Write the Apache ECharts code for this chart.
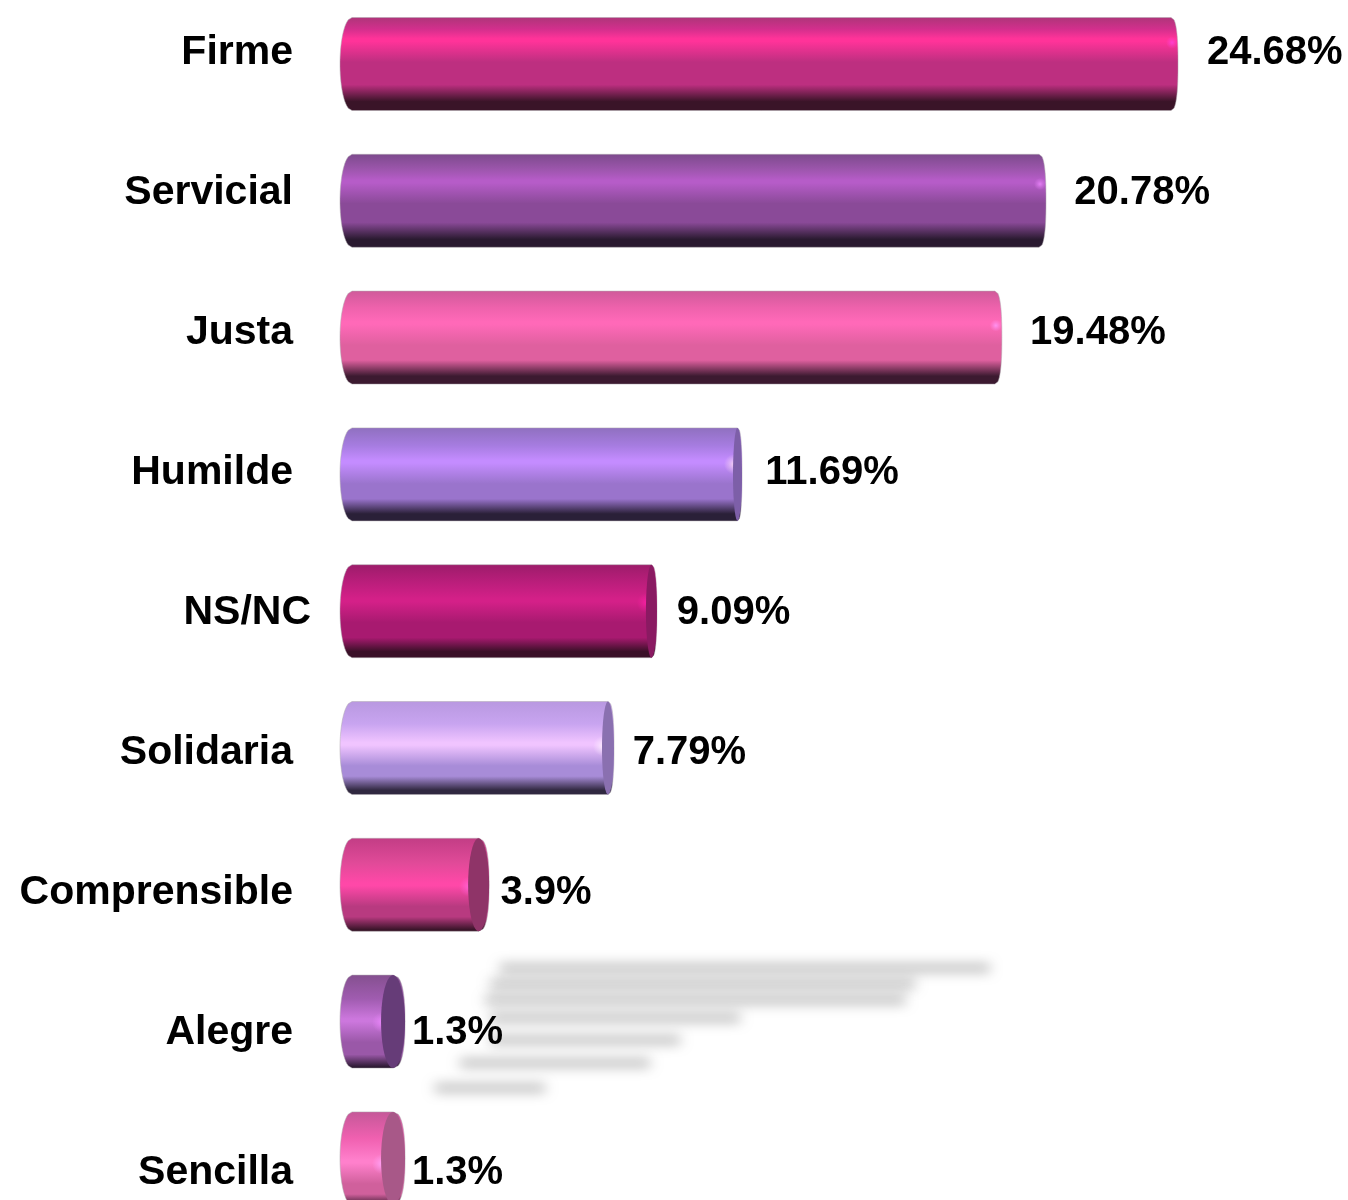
<!DOCTYPE html>
<html><head><meta charset="utf-8">
<style>html,body{margin:0;padding:0;background:#fff}#c{width:1348px;height:1200px}</style>
<script src="https://cdn.jsdelivr.net/npm/echarts@6/dist/echarts.min.js"></script>
</head><body><div id="c"></div>
<script>
const categories = ['Firme','Servicial','Justa','Humilde','NS/NC','Solidaria','Comprensible','Alegre','Sencilla'];
const values = [24.68,20.78,19.48,11.69,9.09,7.79,3.9,1.3,1.3];
const streakStart = [4.49,4.2,4.05,4.2,4.2,3.3,2.55];
const streakEnd = [19.12,16.89,16.6,11.66,9.87,8.97,5.84];
const streakRow = [968,984,1000,1018,1040,1063,1088];

const toneTop    = ['#ad3579','#7c4a8c','#cf5a9a','#8f70bf','#9c1c6a','#b898e0','#c23d85','#84508f','#c45898'];
const tonePre    = ['#d22f8c','#9a55aa','#ee62ac','#a67ce0','#bc1e7c','#c8a4f0','#e04a98','#a05cb0','#f060b0'];
const toneBright = ['#ff3399','#b65cc8','#ff69b8','#c48cff','#d42088','#f0c4ff','#ff48a8','#cc77dd','#ff80cc'];
const toneMid    = ['#bd2f80','#8a4a98','#df609f','#9a74cc','#a81a70','#a88cd8','#b83a80','#9a58a8','#d0609c'];
const toneDark   = ['#3a1428','#2a1a30','#3c1a30','#2a2038','#3a1028','#302840','#381428','#2a1830','#3a1a30'];
const capColors = [null,null,null,'#7d5fa8','#8a1a62','#8a70b0','#8f3468','#663c78','#a85888'];
const glowColors = ['#ff44dd','#ee88ff','#ff9cff','#ffe0ee','#ff1fa8','#fff4ff','#ff66dd','#ee88ff','#ffa8ff'];
const capReach = [2,.6,0,1,3,3.6,9,12,12];
const capWidth = [14,14,14,9,11,12,21,24,24];
const bandAt = [.23,.28,.33,.35,.37,.44,.48,.47,.52];
const darkFrom = [.72,.73,.74,.76,.78,.80,.84,.85,.88];
const darkTo = [.90,.91,.91,.92,.93,.95,.98,.985,1];
const BAR_H = 93, LEFT_R = 12, EXP = 2.5;

function round(t){return Math.pow(1-Math.pow(Math.abs(t),EXP),1/EXP);}
function roundLeft(t){return Math.sqrt(1-t*t);}

function renderBar(params,api){
  const i=params.dataIndex;
  const p=api.coord([api.value(0),api.value(1)]), z=api.coord([0,api.value(1)]);
  const top=p[1]-BAR_H/2, h=BAR_H, far=p[0]+capReach[i], w=capWidth[i];
  const pts=[], N=40;
  for(let k=0;k<=N;k++){const t=-1+2*k/N; pts.push([far-w/2*(1-round(t)),top+(t+1)/2*h]);}
  for(let k=N;k>=0;k--){const t=-1+2*k/N; pts.push([z[0]+2.5-LEFT_R*roundLeft(t),top+(t+1)/2*h]);}
  const b=bandAt[i], df=darkFrom[i], dt=darkTo[i];
  const stops=[
    {offset:0,color:toneTop[i]},
    {offset:b*.55,color:tonePre[i]},
    {offset:b,color:toneBright[i]},
    {offset:Math.min(b+.03,df),color:toneBright[i]},
    {offset:Math.min(b+.25,df),color:toneMid[i]},
    {offset:df,color:toneMid[i]},
    {offset:dt,color:toneDark[i]},
    {offset:1,color:toneDark[i]}
  ];
  const children=[{type:'polygon',shape:{points:pts},style:{
    fill:new echarts.graphic.LinearGradient(0,0,0,1,stops),
    stroke:'rgba(175,170,175,.5)',lineWidth:1}}];
  const capLeft=far-w, gy=top+(b+.04)*h;
  const capped=!!capColors[i];
  const glowRx=capped?10:6, glowRy=26;
  const gx=capped?capLeft+1:far-glowRx;
  const glow=[];
  for(let k=0;k<48;k++){const a=k/48*Math.PI*2; glow.push([gx+glowRx*Math.cos(a),gy+glowRy*Math.sin(a)]);}
  children.push({type:'polygon',shape:{points:glow},style:{
    fill:new echarts.graphic.RadialGradient(.5,.5,.5,[
      {offset:0,color:echarts.color.modifyAlpha(glowColors[i],.8)},
      {offset:.5,color:echarts.color.modifyAlpha(glowColors[i],.35)},
      {offset:1,color:echarts.color.modifyAlpha(glowColors[i],0)}])}});
  if(capped){
    const cap=[];
    for(let k=0;k<=N;k++){const a=k/N*Math.PI*2; cap.push([far-w/2+w/2*Math.cos(a),top+h/2+h/2*Math.sin(a)]);}
    children.push({type:'polygon',shape:{points:cap},style:{fill:capColors[i]}});
  }
  return {type:'group',children};
}
function renderStreak(params,api){
  const a=api.coord([api.value(0),api.value(2)]), e=api.coord([api.value(1),api.value(2)]);
  const OFF=3000;
  return {type:'rect',shape:{x:a[0]-OFF,y:a[1]-2,width:e[0]-a[0],height:4},style:{
    fill:'#000',shadowColor:'rgba(0,0,0,.58)',shadowBlur:13,shadowOffsetX:OFF,shadowOffsetY:0}};
}
function renderValue(params,api){
  const p=api.coord([api.value(0),api.value(1)]);
  return {type:'text',style:{text:api.value(0)+'%',x:p[0],y:p[1],align:'left',verticalAlign:'middle',
    fontFamily:'Liberation Sans',fontWeight:'bold',fontSize:40,fill:'#000'}};
}

const chart=echarts.init(document.getElementById('c'),null,{renderer:'canvas'});
chart.setOption({
  animation:false,
  backgroundColor:'#fff',
  grid:[
    {left:349.5,width:971.2,top:-4.4,height:1231.2,outerBoundsMode:'none'},
    {left:367.8,width:952,top:-17,height:1260,outerBoundsMode:'none'},
    {left:349.5,width:971.2,top:0,height:1200,outerBoundsMode:'none'}
  ],
  xAxis:[
    {gridIndex:0,type:'value',min:0,max:29,show:false},
    {gridIndex:1,type:'value',min:0,max:28,show:false},
    {gridIndex:2,type:'value',min:0,max:29,show:false}
  ],
  yAxis:[
    {gridIndex:0,type:'category',data:categories,inverse:true,show:false},
    {gridIndex:1,type:'category',data:categories,inverse:true,
      axisLine:{show:false},axisTick:{show:false},
      axisLabel:{margin:56.8,interval:0,color:'#000',fontFamily:'Liberation Sans',fontWeight:'bold',fontSize:41,
        formatter:v=>v==='NS/NC'?v:`{s|${v}}`,
        rich:{s:{padding:[0,18,0,0],fontFamily:'Liberation Sans',fontWeight:'bold',fontSize:41,color:'#000'}}}},
    {gridIndex:2,type:'value',min:0,max:1200,inverse:true,show:false}
  ],
  series:[
    {type:'custom',xAxisIndex:2,yAxisIndex:2,clip:false,z:1,renderItem:renderStreak,
      encode:{x:[0,1],y:2},silent:true,data:streakStart.map((s,i)=>[s,streakEnd[i],streakRow[i]])},
    {type:'custom',xAxisIndex:0,yAxisIndex:0,clip:false,z:2,renderItem:renderBar,
      encode:{x:0,y:1},data:values.map((v,i)=>[v,i])},
    {type:'custom',xAxisIndex:1,yAxisIndex:1,clip:false,z:3,renderItem:renderValue,
      encode:{x:0,y:1},data:values.map((v,i)=>[v,i])}
  ]
});
</script></body></html>
